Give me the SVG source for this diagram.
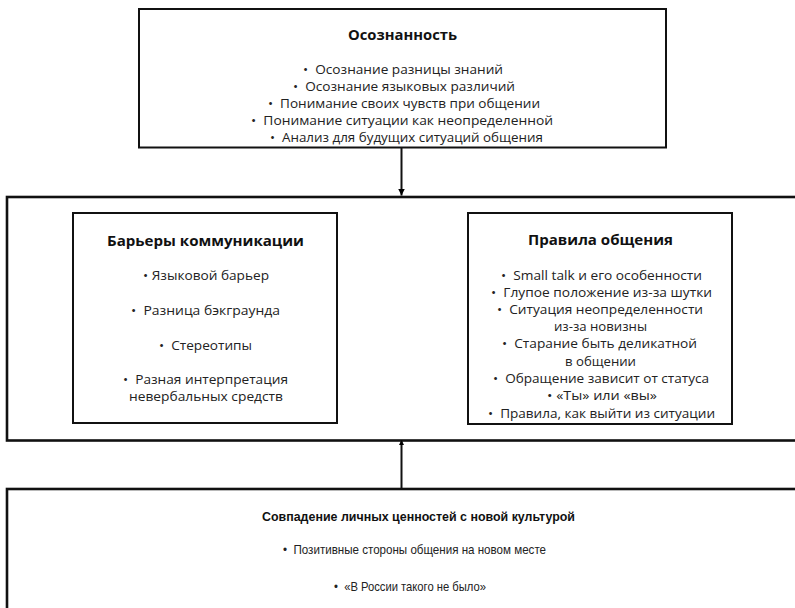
<svg xmlns="http://www.w3.org/2000/svg" width="795" height="608" viewBox="0 0 795 608">
<defs>
<marker id="ah" viewBox="0 0 10 10" refX="10" refY="5" markerWidth="7" markerHeight="7" markerUnits="userSpaceOnUse" orient="auto"><path d="M0,0 L10,5 L0,10 z" fill="#000"/></marker>
<marker id="ahs" viewBox="0 0 10 10" refX="10" refY="5" markerWidth="5" markerHeight="5" markerUnits="userSpaceOnUse" orient="auto"><path d="M0,0 L10,5 L0,10 z" fill="#000"/></marker>
</defs>
<style>
.box{fill:#fff;stroke:#111;stroke-width:2}
.outer{stroke-width:2.6}
.t{font-family:"Open Sans","DejaVu Sans",sans-serif;font-size:13px;fill:#222}
.h{font-weight:bold;font-size:14px;fill:#111}
.c{font-family:"Liberation Sans","Open Sans",sans-serif;font-size:13px;fill:#222}
.ch{font-weight:bold;fill:#111}
.conn{stroke:#111;stroke-width:2;fill:none}
</style>
<rect x="0" y="0" width="795" height="608" fill="#fff"/>

<g id="awareness">
<rect class="box" x="139" y="9" width="527" height="138.5"/>
<text class="t h" x="348" y="40" textLength="109" lengthAdjust="spacingAndGlyphs">Осознанность</text>
<text class="t" x="303" y="74" textLength="200" lengthAdjust="spacingAndGlyphs">•&#160;&#160;Осознание разницы знаний</text>
<text class="t" x="293" y="91" textLength="222" lengthAdjust="spacingAndGlyphs">•&#160;&#160;Осознание языковых различий</text>
<text class="t" x="268" y="108" textLength="272" lengthAdjust="spacingAndGlyphs">•&#160;&#160;Понимание своих чувств при общении</text>
<text class="t" x="251" y="125" textLength="302" lengthAdjust="spacingAndGlyphs">•&#160;&#160;Понимание ситуации как неопределенной</text>
<text class="t" x="270" y="142" textLength="273" lengthAdjust="spacingAndGlyphs">•&#160;&#160;Анализ для будущих ситуаций общения</text>
</g>

<g id="middle">
<rect class="box outer" x="7" y="197" width="800" height="243.5"/>
</g>

<g id="barriers">
<rect class="box" x="73" y="213" width="264" height="210"/>
<text class="t h" x="107" y="246" textLength="197" lengthAdjust="spacingAndGlyphs">Барьеры коммуникации</text>
<text class="t" x="143" y="280" textLength="126" lengthAdjust="spacingAndGlyphs">•&#160;Языковой барьер</text>
<text class="t" x="131" y="315" textLength="149" lengthAdjust="spacingAndGlyphs">•&#160;&#160;Разница бэкграунда</text>
<text class="t" x="159" y="350" textLength="93" lengthAdjust="spacingAndGlyphs">•&#160;&#160;Стереотипы</text>
<text class="t" x="123" y="384" textLength="165" lengthAdjust="spacingAndGlyphs">•&#160;&#160;Разная интерпретация</text>
<text class="t" x="129" y="401" textLength="154" lengthAdjust="spacingAndGlyphs">невербальных средств</text>
</g>

<g id="rules">
<rect class="box" x="468" y="213" width="264" height="211"/>
<text class="t h" x="528" y="245" textLength="145" lengthAdjust="spacingAndGlyphs">Правила общения</text>
<text class="t" x="501" y="280" textLength="201" lengthAdjust="spacingAndGlyphs">•&#160;&#160;Small talk и его особенности</text>
<text class="t" x="491" y="297" textLength="221" lengthAdjust="spacingAndGlyphs">•&#160;&#160;Глупое положение из-за шутки</text>
<text class="t" x="497" y="314" textLength="206" lengthAdjust="spacingAndGlyphs">•&#160;&#160;Ситуация неопределенности</text>
<text class="t" x="554" y="331" textLength="93" lengthAdjust="spacingAndGlyphs">из-за новизны</text>
<text class="t" x="502" y="348" textLength="195" lengthAdjust="spacingAndGlyphs">•&#160;&#160;Старание быть деликатной</text>
<text class="t" x="565" y="365.5" textLength="71" lengthAdjust="spacingAndGlyphs">в общении</text>
<text class="t" x="493" y="382.5" textLength="216" lengthAdjust="spacingAndGlyphs">•&#160;&#160;Обращение зависит от статуса</text>
<text class="t" x="547" y="400" textLength="110" lengthAdjust="spacingAndGlyphs">•&#160;«Ты» или «вы»</text>
<text class="t" x="488" y="417.5" textLength="227" lengthAdjust="spacingAndGlyphs">•&#160;&#160;Правила, как выйти из ситуации</text>
</g>

<g id="values">
<rect class="box outer" x="7" y="489" width="800" height="140"/>
<text class="c ch" x="262" y="521" textLength="313" lengthAdjust="spacingAndGlyphs">Совпадение личных ценностей с новой культурой</text>
<text class="c" x="283" y="554" textLength="263" lengthAdjust="spacingAndGlyphs">•&#160;&#160;Позитивные стороны общения на новом месте</text>
<text class="c" x="334" y="591" textLength="152" lengthAdjust="spacingAndGlyphs">•&#160;&#160;«В России такого не было»</text>
</g>

<g id="connectors">
<line class="conn" x1="401.5" y1="148" x2="401.5" y2="195.5" marker-end="url(#ah)"/>
<line class="conn" x1="401.5" y1="489" x2="401.5" y2="440" marker-end="url(#ahs)"/>
</g>
</svg>
